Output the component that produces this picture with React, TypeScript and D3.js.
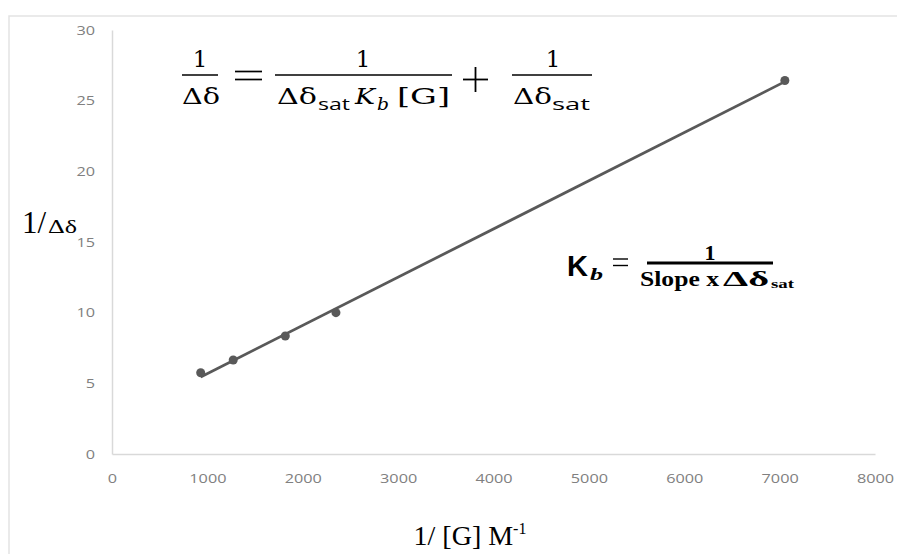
import * as d3 from "d3"
import { useRef, useEffect } from "react"

// data
const invGuest = [930, 1271, 1817, 2348, 7055]
const invShift = [5.75, 6.65, 8.35, 10.0, 26.43]
const xTicks = [0, 1000, 2000, 3000, 4000, 5000, 6000, 7000, 8000]
const yTicks = [0, 5, 10, 15, 20, 25, 30]

const W = 897
const H = 554
const serif = "'Liberation Serif', 'Times New Roman', serif"
const greek = "'DejaVu Serif', serif"
const sans = "'Open Sans', 'Liberation Sans', sans-serif"

const App = () => {
  const svgRef = useRef<SVGSVGElement>(null)

  useEffect(() => {
    const svg = d3.select(svgRef.current)
    svg.selectAll("*").remove()

    const x = d3.scaleLinear().domain([0, 8000]).range([112, 875])
    const y = d3.scaleLinear().domain([0, 30]).range([454, 30])

    // outer frame (runs off the picture right and bottom)
    svg
      .append("rect")
      .attr("x", 9)
      .attr("y", 16)
      .attr("width", W + 20)
      .attr("height", H + 20)
      .attr("fill", "none")
      .attr("stroke", "#e3e3e3")
      .attr("stroke-width", 1.5)

    // axes
    const gy = svg
      .append("g")
      .attr("transform", `translate(${x(0)},0)`)
      .call(d3.axisLeft(y).tickValues(yTicks).tickSize(0).tickPadding(17))
    const gx = svg
      .append("g")
      .attr("transform", `translate(0,${y(0)})`)
      .call(
        d3
          .axisBottom(x)
          .tickValues(xTicks)
          .tickFormat(d3.format("d"))
          .tickSize(0)
          .tickPadding(20)
      )
    ;[gx, gy].forEach((g) => {
      g.select(".domain").attr("stroke", "#d9d9d9").attr("stroke-width", 1.5)
      g.selectAll("text")
        .attr("fill", "#808080")
        .attr("font-family", sans)
        .attr("font-size", 13)
    })
    gx.selectAll("text").attr("transform", "scale(1.25,1)")
    gy.selectAll("text").attr("x", -17 / 1.25).attr("transform", "scale(1.25,1)")

    // least squares trend line
    const mx = d3.mean(invGuest) as number
    const my = d3.mean(invShift) as number
    const sxy = d3.sum(invGuest, (v, i) => (v - mx) * (invShift[i] - my))
    const sxx = d3.sum(invGuest, (v) => (v - mx) * (v - mx))
    const slope = sxy / sxx
    const icpt = my - slope * mx
    const ext = d3.extent(invGuest) as [number, number]
    const line = d3
      .line<number>()
      .x((d) => x(d))
      .y((d) => y(slope * d + icpt))
    svg
      .append("path")
      .attr("d", line(ext))
      .attr("stroke", "#595959")
      .attr("stroke-width", 2.75)
      .attr("fill", "none")

    svg
      .selectAll("circle")
      .data(invGuest)
      .join("circle")
      .attr("cx", (d) => x(d))
      .attr("cy", (d, i) => y(invShift[i]))
      .attr("r", 4.5)
      .attr("fill", "#595959")

    // little helpers for the annotation text
    const txt = (
      s: string,
      px: number,
      py: number,
      fs: number,
      opts: { family?: string; weight?: string; style?: string; anchor?: string; len?: number } = {}
    ) => {
      const t = svg
        .append("text")
        .attr("x", px)
        .attr("y", py)
        .attr("font-size", fs)
        .attr("font-family", opts.family || serif)
        .attr("font-weight", opts.weight || "normal")
        .attr("font-style", opts.style || "normal")
        .attr("text-anchor", opts.anchor || "start")
        .attr("fill", "#000")
        .text(s)
      if (opts.len) t.attr("textLength", opts.len).attr("lengthAdjust", "spacingAndGlyphs")
      return t
    }
    const bar = (x1: number, x2: number, yy: number, w: number) =>
      svg
        .append("line")
        .attr("x1", x1)
        .attr("x2", x2)
        .attr("y1", yy)
        .attr("y2", yy)
        .attr("stroke", "#000")
        .attr("stroke-width", w)

    // top equation
    txt("1", 200, 67, 23, { anchor: "middle", family: greek })
    bar(182, 218, 75, 1.4)
    txt("Δδ", 182, 104, 23, { family: greek, len: 38 })
    bar(235, 262, 71.5, 1.7)
    bar(235, 262, 79.5, 1.7)

    txt("1", 363, 67, 23, { anchor: "middle", family: greek })
    bar(275, 452, 75, 1.4)
    txt("Δδ", 277, 104, 23, { family: greek, len: 40 })
    txt("sat", 318, 110, 17, { family: sans, len: 32 })
    txt("K", 355, 104, 23, { family: greek, style: "italic", len: 20 })
    txt("b", 377, 110, 17, { family: greek, style: "italic", len: 12 })
    txt("[G]", 397, 104, 23, { family: greek, len: 53 })

    bar(463, 488, 79.5, 1.8)
    svg
      .append("line")
      .attr("x1", 475.5)
      .attr("x2", 475.5)
      .attr("y1", 67)
      .attr("y2", 92)
      .attr("stroke", "#000")
      .attr("stroke-width", 1.8)

    txt("1", 553, 67, 23, { anchor: "middle", family: greek })
    bar(512, 592, 75, 1.4)
    txt("Δδ", 513, 104, 23, { family: greek, len: 39 })
    txt("sat", 552, 110, 17, { family: sans, len: 38 })

    // Kb relation
    txt("K", 567, 276, 30, { family: "'Liberation Sans', Arial, sans-serif", weight: "bold", len: 21 })
    txt("b", 590, 280, 16, { weight: "bold", style: "italic", len: 13 })
    bar(613, 628, 259, 1.4)
    bar(613, 628, 265.5, 1.4)
    txt("1", 710, 260, 22, { anchor: "middle", weight: "bold" })
    bar(647, 773, 263, 3)
    txt("Slope x", 640, 286, 21, { weight: "bold", len: 79 })
    txt("Δδ", 723, 286, 21, { weight: "bold", len: 46 })
    txt("sat", 771, 288, 13, { weight: "bold", len: 23 })

    // axis titles
    txt("1/", 22, 233, 31)
    txt("Δδ", 48, 233, 19, { len: 29 })

    const xt = svg
      .append("text")
      .attr("x", 470)
      .attr("y", 545)
      .attr("text-anchor", "middle")
      .attr("font-family", serif)
      .attr("font-size", 28)
      .attr("fill", "#000")
    xt.append("tspan").text("1/ [G] M")
    xt.append("tspan").attr("font-size", 16).attr("dy", -11).text("-1")
  }, [])

  return (
    <svg
      ref={svgRef}
      width={W}
      height={H}
      style={{ position: "absolute", left: 0, top: 0, background: "#fff" }}
    />
  )
}

export default App
